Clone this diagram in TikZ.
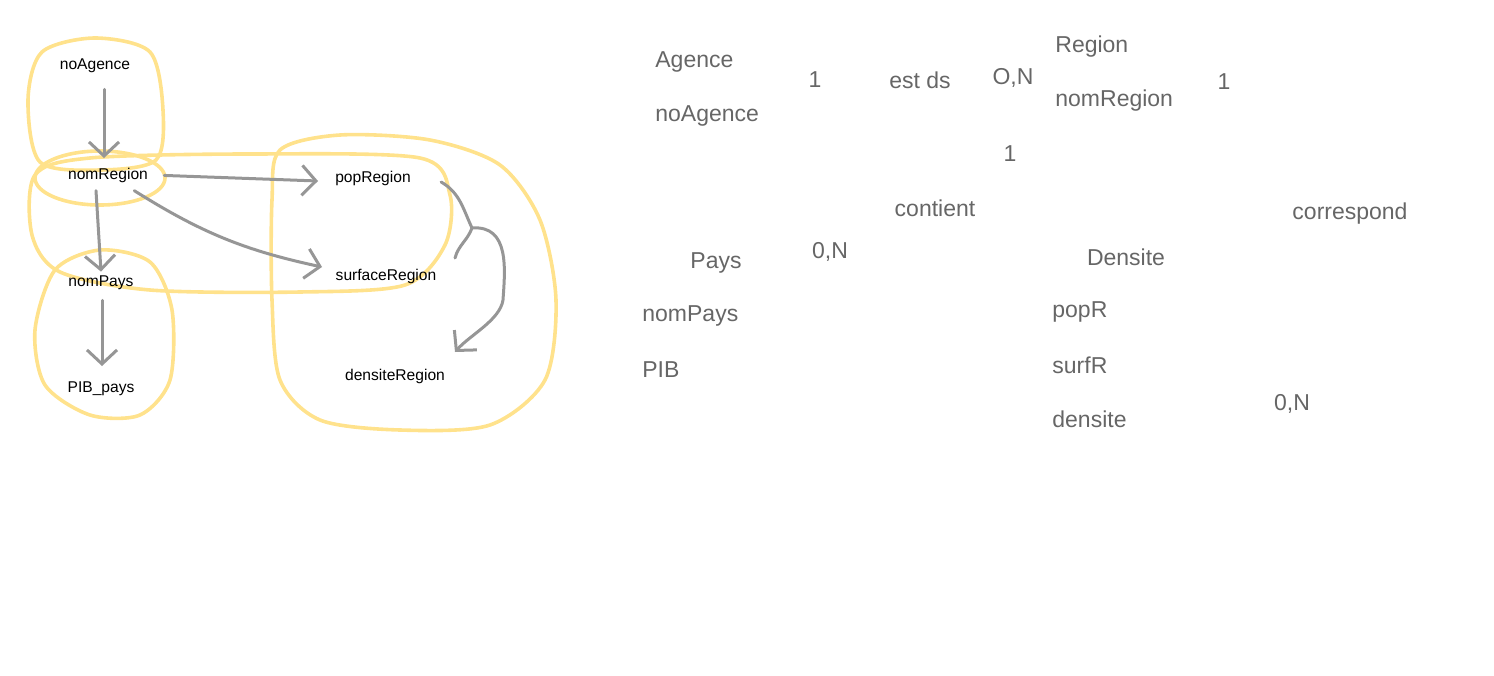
\documentclass[tikz,border=0pt]{standalone}
\usepackage{fontspec}
\setmainfont{Liberation Sans}
\usetikzlibrary{arrows.meta}
\definecolor{hili}{RGB}{255,226,140}
\definecolor{pen}{RGB}{150,150,150}
\tikzset{x=0.5pt, y=-0.5pt,
attr/.style={ % labels of the dependency sketch
inner sep=2pt,
font=\fontsize{7.8}{9}\selectfont},
mcd/.style={ % labels of the entity model
inner sep=0pt,
text=black!60,
font=\fontsize{11.5}{13}\selectfont},
loop/.style={ % yellow freehand groups
draw=hili,
line width=1.8pt,
line join=round},
fd/.style={ % freehand arrows
draw=pen,
line width=1.5pt,
line cap=round,
-{Straight Barb[length=7pt,width=15pt,line width=1.5pt]}}}

\begin{document}
\begin{tikzpicture}
\useasboundingbox (0,0) rectangle (1494,675);
% groups
\draw[loop] plot[smooth cycle] coordinates {(28,100) (42,52) (95,38) (150,52) (163,110) (156,160) (100,170) (40,162)};
\draw[loop] (100,178) ellipse [x radius=65, y radius=27];
\draw[loop] plot[smooth cycle] coordinates {(35,175) (90,158) (250,154) (420,158) (450,195) (445,245) (405,285) (300,292) (150,290) (60,272) (32,235)};
\draw[loop] plot[smooth cycle] coordinates {(55,270) (100,250) (150,262) (172,310) (170,380) (140,415) (90,415) (45,385) (35,330)};
\draw[loop] plot[smooth cycle] coordinates {(280,150) (340,135) (430,140) (500,165) (540,220) (556,300) (545,380) (490,425) (400,430) (320,420) (280,380) (272,300) (272,200)};
% attributes
\node[attr] (nAg) at (95,66) {noAgence};
\node[attr] (nReg) at (108,175) {nomRegion};
\node[attr] (nPays) at (101,283) {nomPays};
\node[attr] (pib) at (101,389) {PIB\_pays};
\node[attr] (pReg) at (373,178) {popRegion};
\node[attr] (sReg) at (386,276) {surfaceRegion};
\node[attr] (dReg) at (395,376) {densiteRegion};
\coordinate (jn) at (472,228);
% dependencies
\draw[fd, shorten <=6pt, shorten >=1pt] (nAg.south) ++(9,0) -- (104,160);
\draw[fd] (nReg.south) ++(-12,4) -- (nPays.north);
\draw[fd] (nPays.south) ++(1,6) -- (102,366);
\draw[fd, shorten <=6pt] (nReg.east) -- (318,181);
\draw[fd] (nReg.south east) ++(-18,4) to[bend right=10] (322,267);
\draw[draw=pen, line width=1.5pt, line cap=round] (pReg.east) ++(26,4) to[out=-30,in=115] (jn);
\draw[draw=pen, line width=1.5pt, line cap=round] (455,258) to[out=75,in=-110] (jn);
\draw[fd] (jn) .. controls (510,225) and (505,270) .. (503,300) .. controls (500,320) and (470,335) .. (455,352);
% entity model
\node[mcd, anchor=west] (ent1) at (655,62) {Agence};
\node[mcd, anchor=west] (ent1a) at (655,116) {noAgence};
\node[mcd] (c1) at (815,80) {1};
\node[mcd] (rel1) at (920,80) {est ds};
\node[mcd] (c2) at (1013,78) {O,N};
\node[mcd, anchor=west] (ent2) at (1055,47) {Region};
\node[mcd, anchor=west] (ent2a) at (1055,101) {nomRegion};
\node[mcd] (c3) at (1224,82) {1};
\node[mcd] (c4) at (1010,154) {1};
\node[mcd] (rel2) at (935,208) {contient};
\node[mcd] (rel3) at (1350,214) {correspond};
\node[mcd] (ent3) at (716,263) {Pays};
\node[mcd] (c5) at (830,252) {0,N};
\node[mcd] (ent4) at (1126,257) {Densite};
\node[mcd, anchor=west] (ent3a) at (642,316) {nomPays};
\node[mcd, anchor=west] (ent3b) at (642,370) {PIB};
\node[mcd, anchor=west] (ent4a) at (1052,312) {popR};
\node[mcd, anchor=west] (ent4b) at (1052,365) {surfR};
\node[mcd, anchor=west] (ent4c) at (1052,419) {densite};
\node[mcd] (c6) at (1292,404) {0,N};
\end{tikzpicture}
\end{document}
